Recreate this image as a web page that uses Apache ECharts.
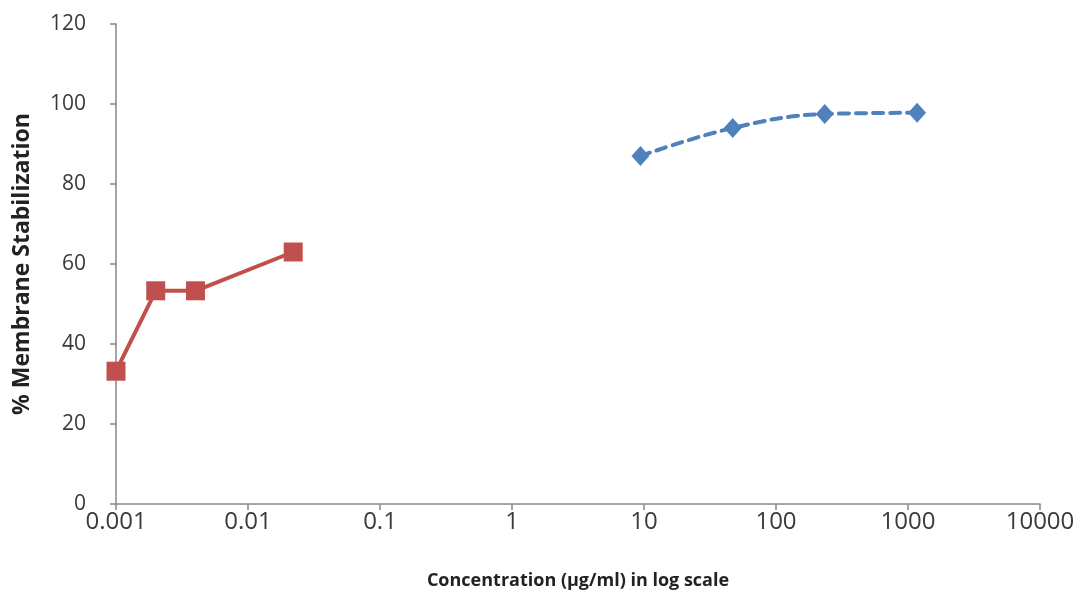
<!DOCTYPE html>
<html>
<head>
<meta charset="utf-8">
<script src="https://cdn.jsdelivr.net/npm/echarts@6/dist/echarts.min.js"></script>
<style>
  html, body { margin: 0; padding: 0; background: #fff; }
  #chart-dom { width: 1088px; height: 600px; }
</style>
</head>
<body>
<div id="chart-dom"></div>
<script>
// data
const xTickLabels = ['0.001', '0.01', '0.1', '1', '10', '100', '1000', '10000'];
const redX = [0.001, 0.002, 0.004, 0.022];
const redY = [33.2, 53.3, 53.3, 63];
const blueX = [9.4, 47, 234, 1172];
const blueY = [87, 94, 97.5, 97.8];

const myChart = echarts.init(document.getElementById('chart-dom'));
const font = '"Open Sans", "Liberation Sans", sans-serif';

const option = {
  animation: false,
  grid: {
    left: 116,
    right: 48,
    top: 24,
    bottom: 96
  },
  xAxis: {
    type: 'log',
    logBase: 10,
    min: 0.001,
    max: 10000,
    name: 'Concentration (µg/ml) in log scale',
    nameLocation: 'middle',
    nameGap: 68,
    nameTextStyle: { fontFamily: font, fontSize: 18, fontWeight: 'bold', color: '#222' },
    axisLine: { lineStyle: { color: '#888', width: 1.5 } },
    axisTick: { show: true, length: 6, lineStyle: { color: '#888', width: 1.5 } },
    axisLabel: {
      fontFamily: font, fontSize: 24, color: '#3a3a3a', margin: 6,
      formatter: function (v) {
        const i = Math.round(Math.log10(v)) + 3;
        return xTickLabels[i] !== undefined ? xTickLabels[i] : '';
      }
    },
    splitLine: { show: false },
    minorTick: { show: false }
  },
  yAxis: {
    type: 'value',
    min: 0,
    max: 120,
    interval: 20,
    name: '% Membrane Stabilization',
    nameLocation: 'middle',
    nameGap: 82,
    nameTextStyle: { fontFamily: font, fontSize: 23, fontWeight: 'bold', color: '#222' },
    axisLine: { show: true, lineStyle: { color: '#888', width: 1.5 } },
    axisTick: { show: true, length: 6, lineStyle: { color: '#888', width: 1.5 } },
    axisLabel: { fontFamily: font, fontSize: 21, color: '#3a3a3a', margin: 30 },
    splitLine: { show: false }
  },
  series: [
    {
      name: 'red',
      type: 'line',
      data: redX.map((x, i) => [x, redY[i]]),
      symbol: 'rect',
      symbolSize: 19,
      itemStyle: { color: '#C0504D' },
      lineStyle: { color: '#C0504D', width: 4 }
    },
    {
      name: 'blue',
      type: 'line',
      data: blueX.map((x, i) => [x, blueY[i]]),
      smooth: 0.4,
      symbol: 'diamond',
      symbolSize: [18, 20],
      itemStyle: { color: '#4F81BD' },
      lineStyle: { color: '#4F81BD', width: 4, type: [10, 7], cap: 'round' }
    }
  ]
};
myChart.setOption(option, true);
</script>
</body>
</html>
